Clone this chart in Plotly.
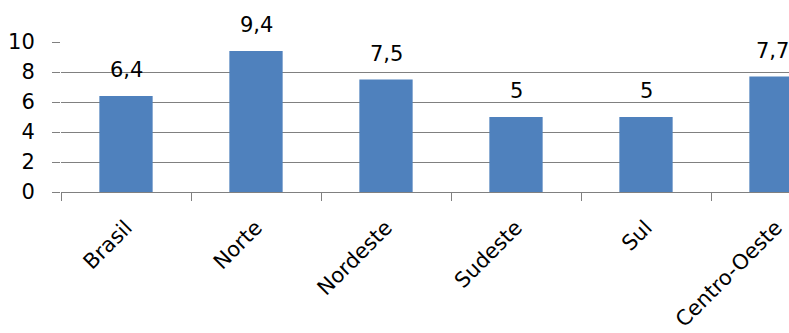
import plotly.graph_objects as go

categories = ["Brasil", "Norte", "Nordeste", "Sudeste", "Sul", "Centro-Oeste"]
values = [6.4, 9.4, 7.5, 5, 5, 7.7]
value_labels = ["6,4", "9,4", "7,5", "5", "5", "7,7"]
y_ticks = [0, 2, 4, 6, 8, 10]

FONT = "DejaVu Sans"
GRID = "#808080"
FS = 21

fig = go.Figure(
    go.Bar(
        x=categories,
        y=values,
        marker=dict(color="#4F81BD", line=dict(width=0)),
        cliponaxis=False,
    )
)

annotations = []
for i, (c, v, t) in enumerate(zip(categories, values, value_labels)):
    annotations.append(
        dict(x=c, y=v, text=t, showarrow=False, xref="x", yref="y",
             yanchor="middle", yshift=26,
             xshift=-4 if i == len(categories) - 1 else 0,
             font=dict(family=FONT, size=FS, color="#000000"))
    )

fig.update_layout(
    width=789, height=333,
    margin=dict(l=61, r=0, t=42, b=141, autoexpand=False),
    paper_bgcolor="white", plot_bgcolor="white",
    bargap=0.59,
    showlegend=False,
    annotations=annotations,
    font=dict(family=FONT, size=FS, color="#000000"),
    xaxis=dict(
        type="category",
        range=[-0.5, 5.1],
        tickson="boundaries",
        ticks="outside", ticklen=8, tickcolor=GRID, tickwidth=1,
        showline=True, linecolor=GRID, linewidth=1,
        showgrid=False,
        tickangle=-45,
        ticklabelstandoff=14,
        automargin=False,
        tickfont=dict(family=FONT, size=FS, color="#000000"),
    ),
    yaxis=dict(
        range=[0, 10],
        tickvals=y_ticks,
        ticktext=[str(t) for t in y_ticks],
        ticks="outside", ticklen=8, tickcolor=GRID, tickwidth=1,
        showgrid=True, gridcolor=GRID, gridwidth=1,
        showline=False, zeroline=False,
        ticklabelstandoff=13,
        automargin=False,
        tickfont=dict(family=FONT, size=FS, color="#000000"),
    ),
)

fig.write_html("out.html")
